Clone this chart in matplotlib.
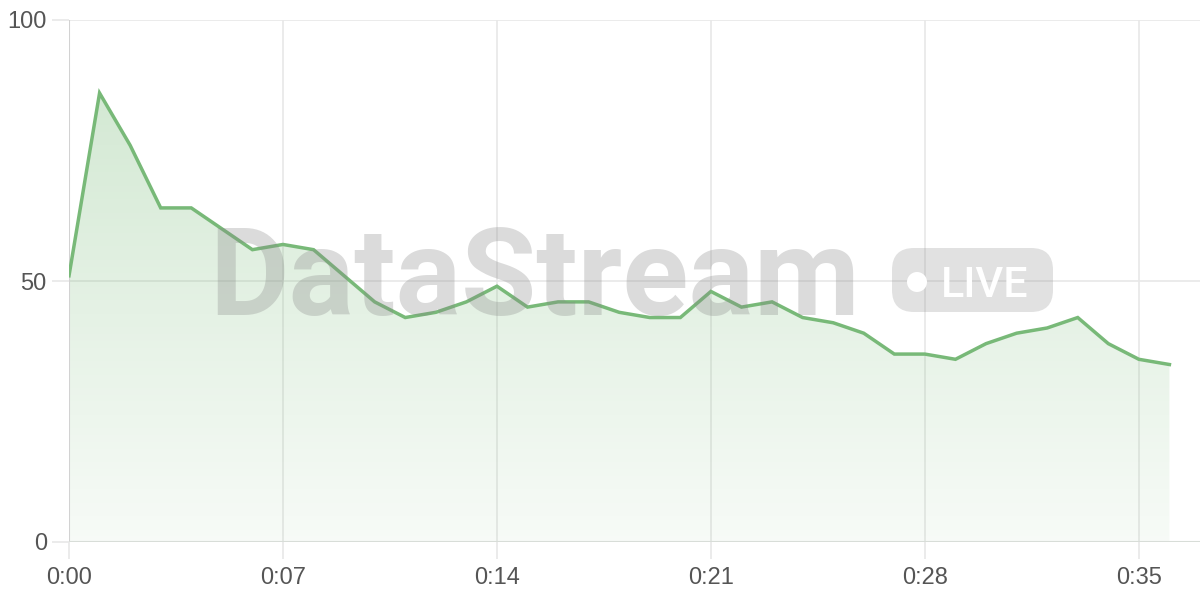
import numpy as np
import matplotlib.pyplot as plt
from matplotlib.patches import FancyBboxPatch, Circle

# values, one per second
seconds = list(range(37))
values = [51, 86, 76, 64, 64, 60, 56, 57, 56, 51, 46, 43, 44, 46, 49, 45, 46, 46,
          44, 43, 43, 48, 45, 46, 43, 42, 40, 36, 36, 35, 38, 40, 41, 43, 38, 35, 34]
xticks = [0, 7, 14, 21, 28, 35]
xlabels = ["0:00", "0:07", "0:14", "0:21", "0:28", "0:35"]
yticks = [0, 50, 100]

plt.rcParams['font.family'] = ['Liberation Sans', 'DejaVu Sans']

line_color = "#78b978"
grid_color = "#e8e8e8"
text_color = "#555555"

fig = plt.figure(figsize=(12, 6), dpi=100)
ax = fig.add_axes([69 / 1200, 58 / 600, 1131 / 1200, 522 / 600])
ax.set_xlim(0, 37)
ax.set_ylim(0, 100)

# gradient fill under the line
fill = ax.fill_between(seconds, values, 0, color="none", lw=0)
grad = np.linspace(0.06, 0.32, 256).reshape(-1, 1)
rgba = np.zeros((256, 1, 4))
rgba[..., 0] = 0.47
rgba[..., 1] = 0.73
rgba[..., 2] = 0.47
rgba[..., 3] = grad
img = ax.imshow(rgba, extent=[0, 36, 0, max(values)], origin="lower",
                aspect="auto", zorder=1, interpolation="bicubic")
img.set_clip_path(fill.get_paths()[0], transform=ax.transData)

ax.plot(seconds, values, color=line_color, lw=2.5, zorder=3, solid_joinstyle="miter")

# grid and ticks
for s in ax.spines.values():
    s.set_visible(False)
ax.set_xticks(xticks)
ax.set_xticklabels(xlabels)
ax.set_yticks(yticks)
ax.grid(True, color=grid_color, lw=1.2, zorder=0)
ax.axvline(0, color="#d2d2d2", lw=1.5, zorder=2)
ax.axhline(0, color="#d8ddd8", lw=1.5, zorder=2)
ax.tick_params(axis="both", length=12, width=1.2, color=grid_color,
               labelsize=17, labelcolor=text_color)
ax.tick_params(axis="x", pad=6)
ax.tick_params(axis="y", pad=4)
ax.set_axisbelow(True)

# watermark (drawn in pixel coordinates, figure is 1200x600)
fig.text(209 / 1200, 1 - 315 / 600, "DataStream", fontsize=88, fontweight="bold",
         family=["Roboto", "DejaVu Sans"], color="#888888", alpha=0.3,
         ha="left", va="baseline", zorder=10)
box = FancyBboxPatch((892, 600 - 312), 161, 64,
                     boxstyle="round,pad=0,rounding_size=22",
                     transform=None, facecolor="#888888", alpha=0.25,
                     edgecolor="none", zorder=10)
fig.patches.append(box)
fig.patches.append(Circle((917, 600 - 282), 10, transform=None,
                          facecolor="white", edgecolor="none", zorder=11))
fig.text(941 / 1200, 1 - 297 / 600, "LIVE", fontsize=31, color="white",
         family=["Roboto", "DejaVu Sans"], fontweight="medium",
         ha="left", va="baseline", zorder=11)

fig.savefig("out.png", dpi=100)
